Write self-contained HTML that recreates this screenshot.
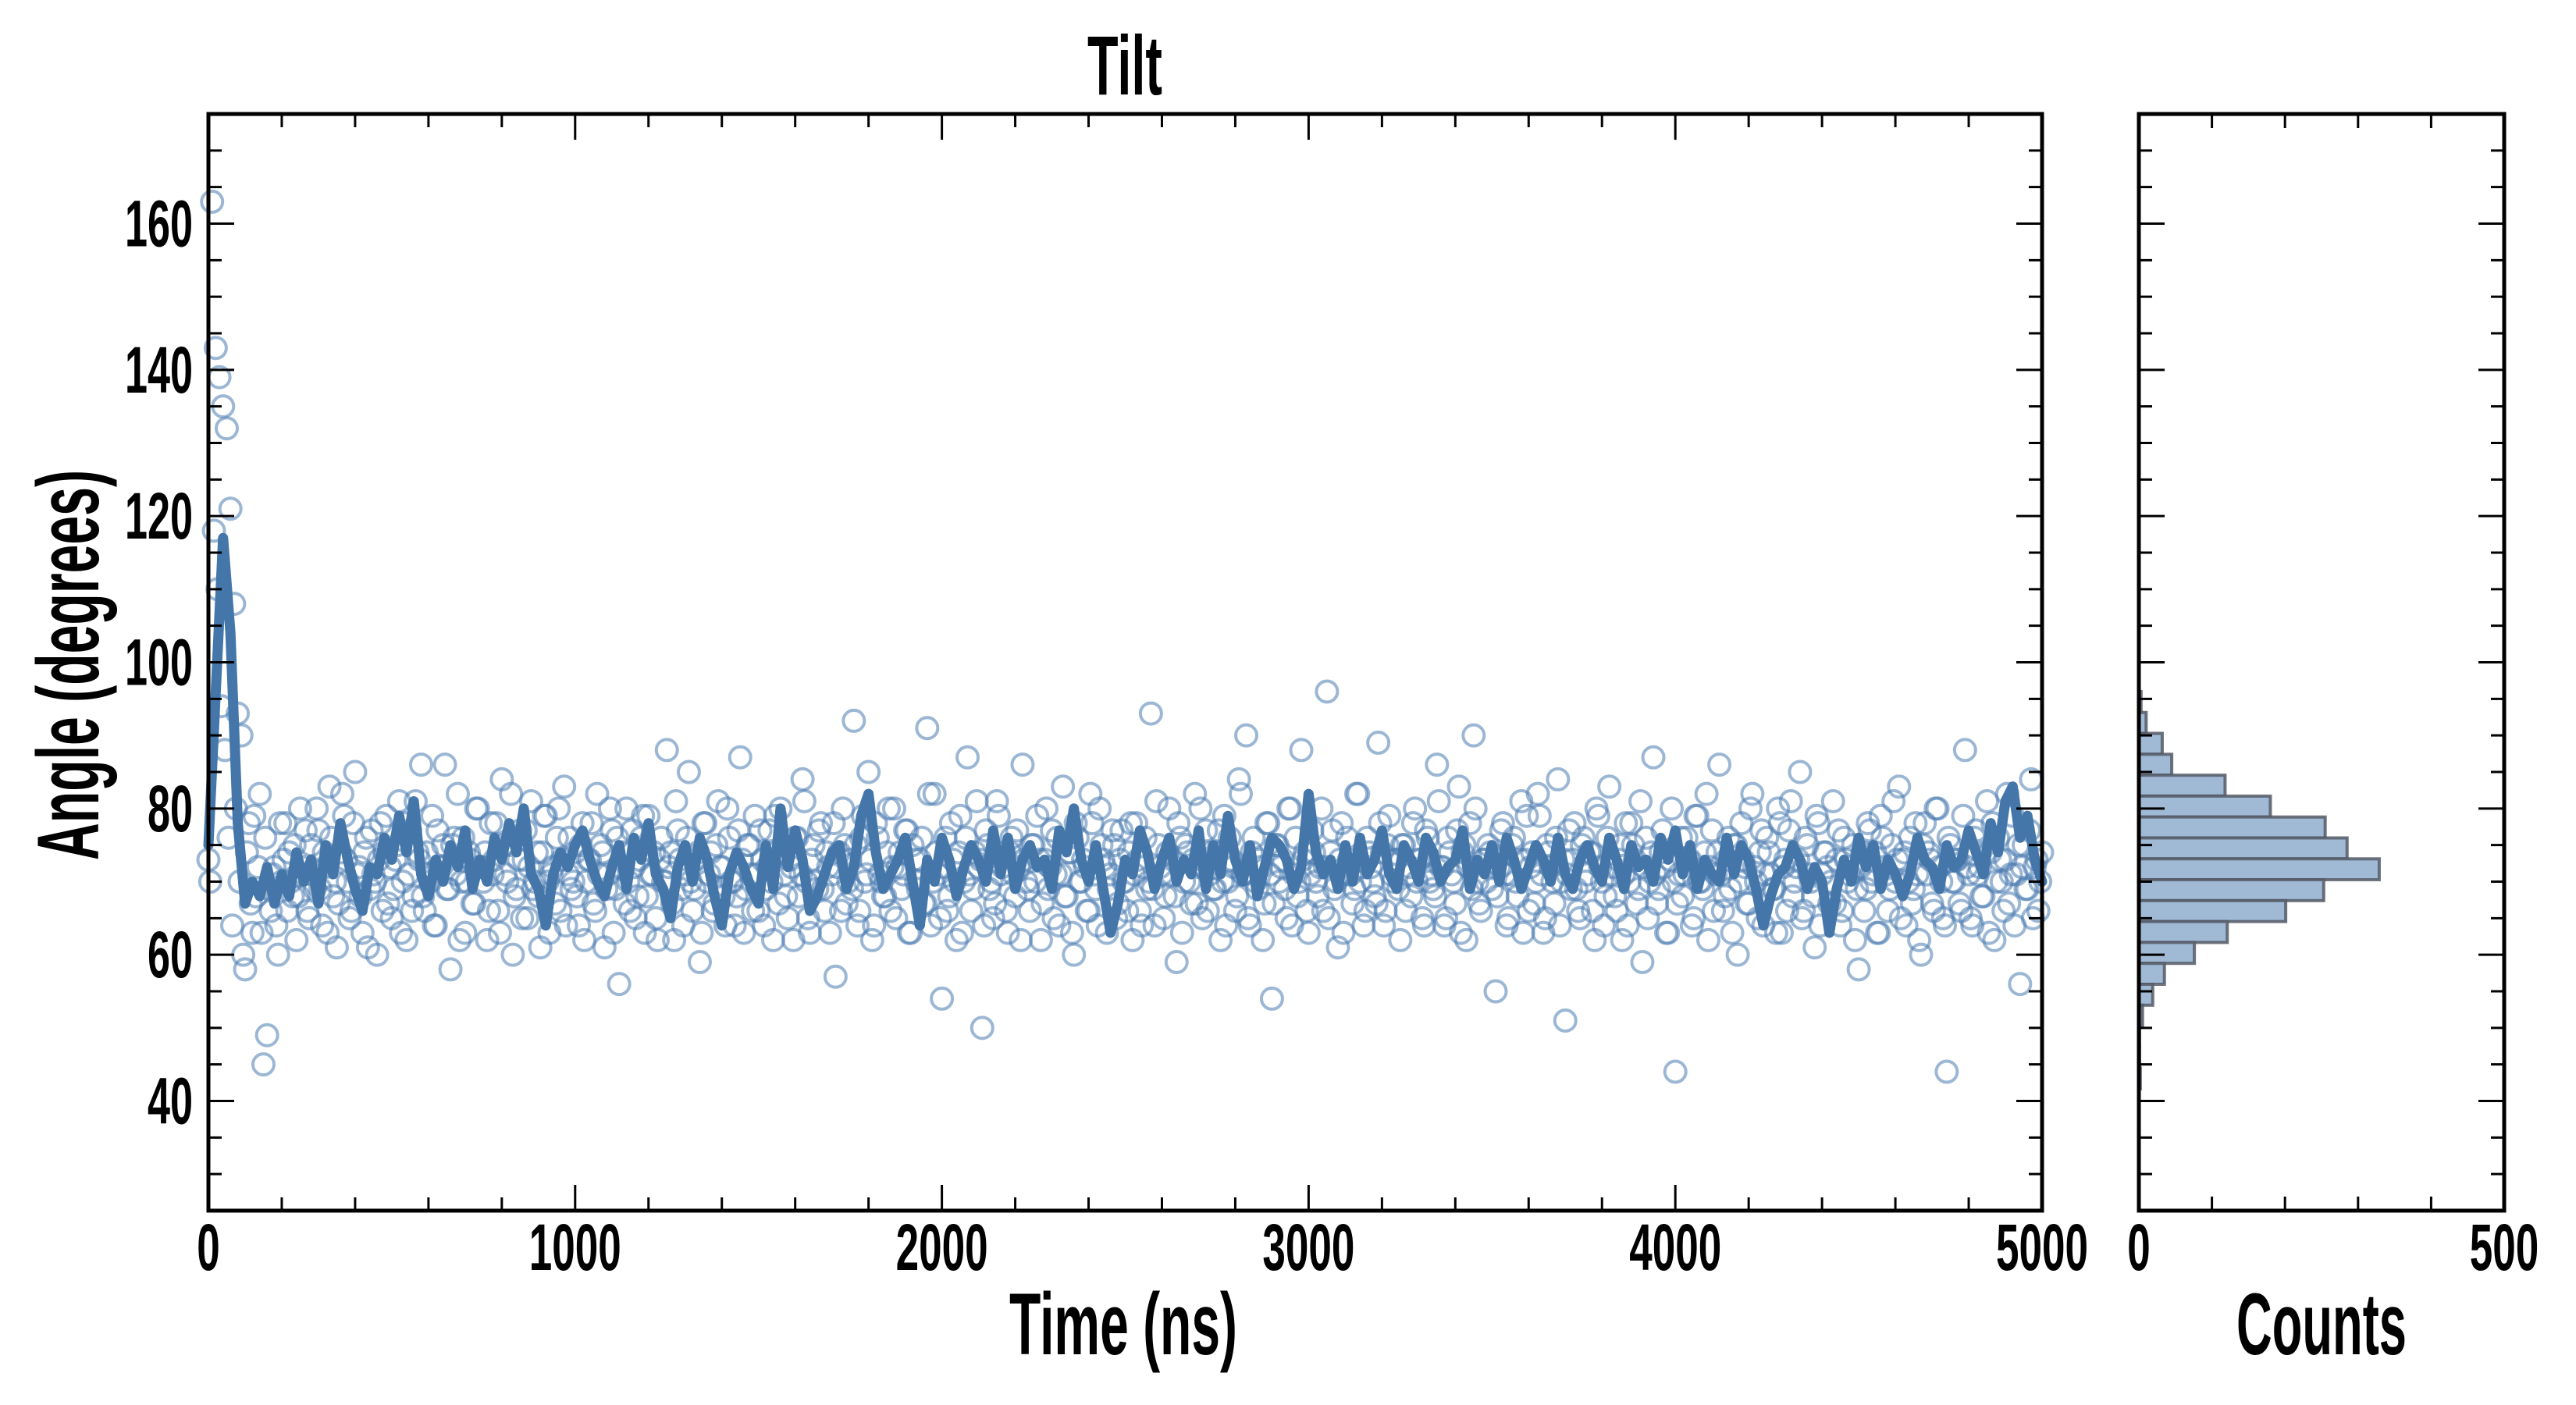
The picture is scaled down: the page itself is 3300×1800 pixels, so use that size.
<!DOCTYPE html>
<html><head><meta charset="utf-8"><title>Tilt</title>
<style>html,body{margin:0;padding:0;background:#fff}svg{display:block}
text{font-family:"Liberation Sans Narrow","Liberation Sans",sans-serif;font-weight:bold;fill:#000}</style></head>
<body>
<svg id="chart" width="3300" height="1800" viewBox="0 0 3300 1800" xmlns="http://www.w3.org/2000/svg">
<g id="scatter"></g>
<g id="lineg"></g>
<g id="hist"></g>
<g id="axes"></g>
<text x="1441" y="121" font-size="108" text-anchor="middle" textLength="96" lengthAdjust="spacingAndGlyphs">Tilt</text>
<text x="1439" y="1735" font-size="112" text-anchor="middle" textLength="292" lengthAdjust="spacingAndGlyphs">Time (ns)</text>
<text x="2974" y="1735" font-size="112" text-anchor="middle" textLength="218" lengthAdjust="spacingAndGlyphs">Counts</text>
<text transform="translate(126,852) rotate(-90)" x="0" y="0" font-size="112" text-anchor="middle" textLength="500" lengthAdjust="spacingAndGlyphs">Angle (degrees)</text>
</svg>
<script>
const scatterStep = 10;
const scatterY = [
73,163,143,139,135,132,121,108,93,90,58,78,63,68,82,45,49,66,72,60,70,78,74,68,62,
80,71,66,75,69,77,64,72,83,68,61,74,79,70,66,85,72,63,76,69,71,60,78,74,67,
65,73,81,70,62,77,68,74,86,66,71,79,64,72,75,69,58,76,82,70,63,74,67,80,72,
70,62,78,73,66,84,71,75,60,69,77,73,65,81,70,68,74,79,63,72,76,66,83,71,69,
74,64,78,70,73,67,82,75,61,71,77,69,56,74,80,66,72,68,76,63,79,71,65,73,70,
88,74,62,77,69,71,85,66,73,59,78,70,74,67,81,72,64,76,70,68,87,63,75,71,79,
66,73,69,77,62,74,80,71,65,72,76,68,84,70,63,75,69,78,66,72,71,57,74,80,67,
73,92,64,76,70,85,62,78,71,68,74,66,80,72,69,77,63,75,70,73,67,91,64,82,71,
54,76,68,73,62,79,70,87,66,74,72,50,77,69,65,81,71,74,63,76,68,72,86,70,66,
75,79,62,73,69,77,71,64,83,68,74,60,76,70,72,66,78,69,80,73,63,71,75,67,77,
70,74,62,78,66,72,69,93,64,75,71,68,80,73,59,76,70,74,67,82,72,65,77,71,69,
74,62,79,70,73,66,84,71,90,64,76,69,72,67,78,54,75,70,73,65,80,71,68,88,74,
63,77,70,72,66,96,74,69,61,78,71,73,67,82,70,64,76,72,68,89,74,66,79,70,73,
62,75,71,68,80,73,65,77,70,69,86,72,64,76,71,67,83,74,62,78,90,70,66,73,75,
69,55,72,78,64,71,76,68,81,73,66,74,70,79,63,75,72,67,84,70,51,77,73,69,65,
76,71,74,62,79,70,68,83,72,66,75,71,64,78,73,69,59,76,70,87,67,74,72,63,80,
44,71,68,76,73,65,79,70,74,62,77,71,86,66,73,69,75,60,78,72,67,82,70,74,64,
76,71,69,80,63,73,77,68,72,85,66,75,70,61,78,71,74,67,81,73,64,76,70,72,62,
58,74,69,77,71,63,79,72,66,75,70,83,73,64,76,69,71,60,78,74,67,80,72,65,44,
75,70,73,66,88,71,64,77,72,68,81,74,62,76,70,73,67,79,71,56,75,69,84,72,66,
74,70,63,78,73,67,81,71,64,76,72,69,85,70,62,77,74,68,80,71,65,75,73,69,61,
78,70,74,66,83,72,64,76,71,69,80,73,55,75,70,67,82,72,65,77,71,74,62,79,70,
73,66,84,71,64,76,72,69,89,70,62,78,74,67,81,71,65,77,73,68,60,75,70,72,66,
80,71,63,76,73,69,84,70,66,74,72,62,78,71,68,82,73,64,75,70,67,79,72,65,77,
71,74,63,80,70,68,86,72,65,76,73,69,61,78,71,74,66,83,70,64,77,72,88,70,90
];
const scatterY2 = [
70,118,110,94,88,76,64,80,70,60,74,67,79,72,63,76,69,71,64,78,73,66,70,75,68,
72,77,65,71,80,69,74,63,76,70,67,82,73,65,78,71,68,74,61,77,70,73,66,79,72,
69,75,63,78,71,66,81,73,68,74,70,64,77,72,86,69,75,71,62,76,70,73,67,80,72,
74,66,71,78,63,75,70,82,68,73,65,77,72,69,74,61,79,70,71,67,80,73,64,76,70,
68,75,62,73,78,66,71,74,69,80,63,76,72,67,70,77,65,73,79,68,71,74,62,76,70,
72,67,81,73,64,76,70,69,74,63,78,71,66,75,72,68,80,70,64,77,73,69,75,66,71,
77,64,72,70,79,67,74,68,73,62,76,71,81,65,73,70,77,69,74,63,78,72,66,75,70,
69,75,66,79,71,73,64,76,70,68,80,72,65,74,71,77,63,73,69,76,67,82,70,74,65,
72,66,78,70,74,63,76,71,69,81,73,64,75,70,67,79,72,66,74,71,77,62,73,69,75,
70,73,67,80,72,65,76,71,68,74,63,78,70,73,66,82,71,64,75,72,69,77,65,73,70,
66,78,71,73,64,76,70,69,81,72,65,74,71,68,78,63,75,70,73,67,80,72,66,74,69,
77,70,64,76,72,68,82,71,65,74,70,73,62,78,71,67,75,72,69,80,64,76,70,73,66,
71,74,68,80,72,65,77,70,73,63,76,71,69,82,72,66,74,70,67,78,64,75,71,73,69,
75,66,72,78,70,73,64,76,71,68,81,72,65,74,70,77,63,75,72,69,80,67,73,70,74,
72,68,77,71,65,75,70,73,63,79,72,67,82,71,65,74,70,76,64,73,71,69,78,66,75,
70,74,66,80,72,64,76,71,68,73,62,78,70,75,67,81,72,65,74,71,69,77,63,73,70,
67,76,71,73,64,79,70,69,82,72,66,74,71,68,76,63,75,70,73,67,80,72,65,77,71,
74,69,63,78,72,66,81,70,73,65,76,71,68,79,64,74,72,70,67,77,66,73,71,75,69,
72,66,78,70,74,63,76,71,69,81,73,65,74,70,67,78,62,75,71,73,66,80,70,64,76,
70,73,67,79,72,65,76,71,68,74,63,78,70,73,66,82,71,64,75,72,69,77,65,73,70,
74,68,80,71,65,77,72,69,74,63,76,70,73,66,81,72,64,75,71,68,78,66,73,70,76,
69,75,64,78,71,67,82,72,65,74,70,73,63,77,71,69,80,66,74,72,68,76,65,73,70,
72,67,79,70,74,64,77,71,68,81,72,66,74,70,73,63,78,71,69,75,65,80,72,67,74,
70,76,66,72,79,68,74,71,64,77,72,69,82,70,66,75,73,68,76,64,78,71,74,67,80,
73,69,75,66,78,71,74,68,82,72,76,69,79,73,77,71,81,75,72,78,74,80,73,76
];
const lineStep = 20;
const lineY = [
75,96,117,104,78,67,70,68,72,67,71,68,74,70,73,67,75,71,78,73,69,66,72,71,76,
73,79,74,81,71,68,73,70,75,72,77,69,73,70,76,73,78,74,80,71,69,64,71,74,72,
75,77,73,70,68,72,75,69,76,73,78,71,69,65,72,75,70,76,73,68,64,71,74,72,69,
67,75,69,80,72,77,73,66,68,71,74,75,69,72,79,82,74,69,71,73,76,70,64,73,70,
76,73,68,72,75,73,70,77,71,76,69,73,75,72,73,69,77,74,80,73,70,75,69,63,67,
73,71,77,74,69,73,76,70,73,71,77,69,75,71,79,73,70,75,68,72,76,75,73,69,72,
82,74,71,73,69,75,70,76,71,73,77,71,69,75,73,70,76,74,70,72,73,77,69,73,71,
75,70,76,73,69,72,75,73,70,76,71,69,73,75,72,70,76,73,69,75,72,73,70,76,73,
77,71,75,69,73,71,70,76,71,75,73,69,64,68,71,72,75,73,69,72,70,63,69,73,70,
76,72,75,69,73,71,68,71,76,73,72,69,75,72,73,77,74,71,78,74,81,83,76,79,73,70,72
];
const histCounts = [3,10,32,45,118,180,255,285,329,253,201,121,76,35,19,5,1,1,2,0];
const histTop = 96.0;
const histBinWidth = 2.86;
const xTicks = [0,1000,2000,3000,4000,5000];
const yTicks = [40,60,80,100,120,140,160];
const histTicks = [0,500];

const NS='http://www.w3.org/2000/svg';
const L=267,R=2616,T=146,B=1551,HL=2740,HR=3208;
const X0=0,X1=5000,Y0=25,Y1=175,C1=500;
const xs=v=>L+(v-X0)/(X1-X0)*(R-L);
const ys=v=>B-(v-Y0)/(Y1-Y0)*(B-T);
const hs=v=>HL+v/C1*(HR-HL);
function mk(tag,attrs,parent){const e=document.createElementNS(NS,tag);for(const k in attrs)e.setAttribute(k,attrs[k]);parent.appendChild(e);return e;}

const sg=document.getElementById('scatter');
function drawPts(arr,off){arr.forEach((v,i)=>{const x=i*scatterStep+off;if(x>X1)return;
  const c=mk('circle',{cx:xs(x),cy:ys(v),r:13.5,fill:'none',stroke:'#4b7bb0','stroke-width':4,'stroke-opacity':0.55},sg);
  
  });}
drawPts(scatterY,0);drawPts(scatterY2,5);

const lg=document.getElementById('lineg');
let d='';lineY.forEach((v,i)=>{const x=i*lineStep;if(x>X1)return;d+=(i?'L':'M')+xs(x).toFixed(1)+','+ys(v).toFixed(1);});
const pl=mk('path',{d:d,fill:'none',stroke:'#4476a9','stroke-width':13,'stroke-linejoin':'round','stroke-linecap':'round'},lg);



const hg=document.getElementById('hist');
histCounts.forEach((c,i)=>{if(c<=0)return;const top=histTop-i*histBinWidth,bot=top-histBinWidth;
  const r=mk('rect',{x:HL,y:ys(top),width:hs(c)-HL,height:ys(bot)-ys(top),fill:'#a0b9d5',stroke:'#555b66','stroke-width':4,'stroke-opacity':0.85},hg);
  
  });

const ag=document.getElementById('axes');
function ln(x1,y1,x2,y2,w){mk('line',{x1:x1,y1:y1,x2:x2,y2:y2,stroke:'#000','stroke-width':w||3},ag);}
function txt(s,x,y,anchor,w){const t=mk('text',{x:x,y:y,'font-size':84,'text-anchor':anchor,textLength:w,lengthAdjust:'spacingAndGlyphs'},ag);t.textContent=s;return t;}
[[L,R],[HL,HR]].forEach(([a,b])=>{const f=mk('rect',{x:a,y:T,width:b-a,height:B-T,fill:'none',stroke:'#000','stroke-width':5},ag);
  
  });
for(let v=0;v<=5000;v+=200){const x=xs(v),maj=v%1000===0,len=maj?33:17;ln(x,B,x,B-len);ln(x,T,x,T+len);}
xTicks.forEach(v=>{const t=txt(String(v),xs(v),1627,'middle',String(v).length*29.5);
  
  });
for(let v=30;v<=175;v+=5){const y=ys(v),maj=v%20===0,len=maj?33:17;
  ln(L,y,L+len,y);ln(R,y,R-len,y);ln(HL,y,HL+len,y);ln(HR,y,HR-len,y);}
yTicks.forEach(v=>{const t=txt(String(v),247,ys(v)+29,'end',String(v).length*29);
  
  });
for(let v=0;v<=500;v+=100){const x=hs(v),len=(v%500===0)?33:18;ln(x,B,x,B-len);ln(x,T,x,T+len);}
histTicks.forEach(v=>{const t=txt(String(v),hs(v),1627,'middle',String(v).length*29.5);
  
  });
</script>
</body></html>
